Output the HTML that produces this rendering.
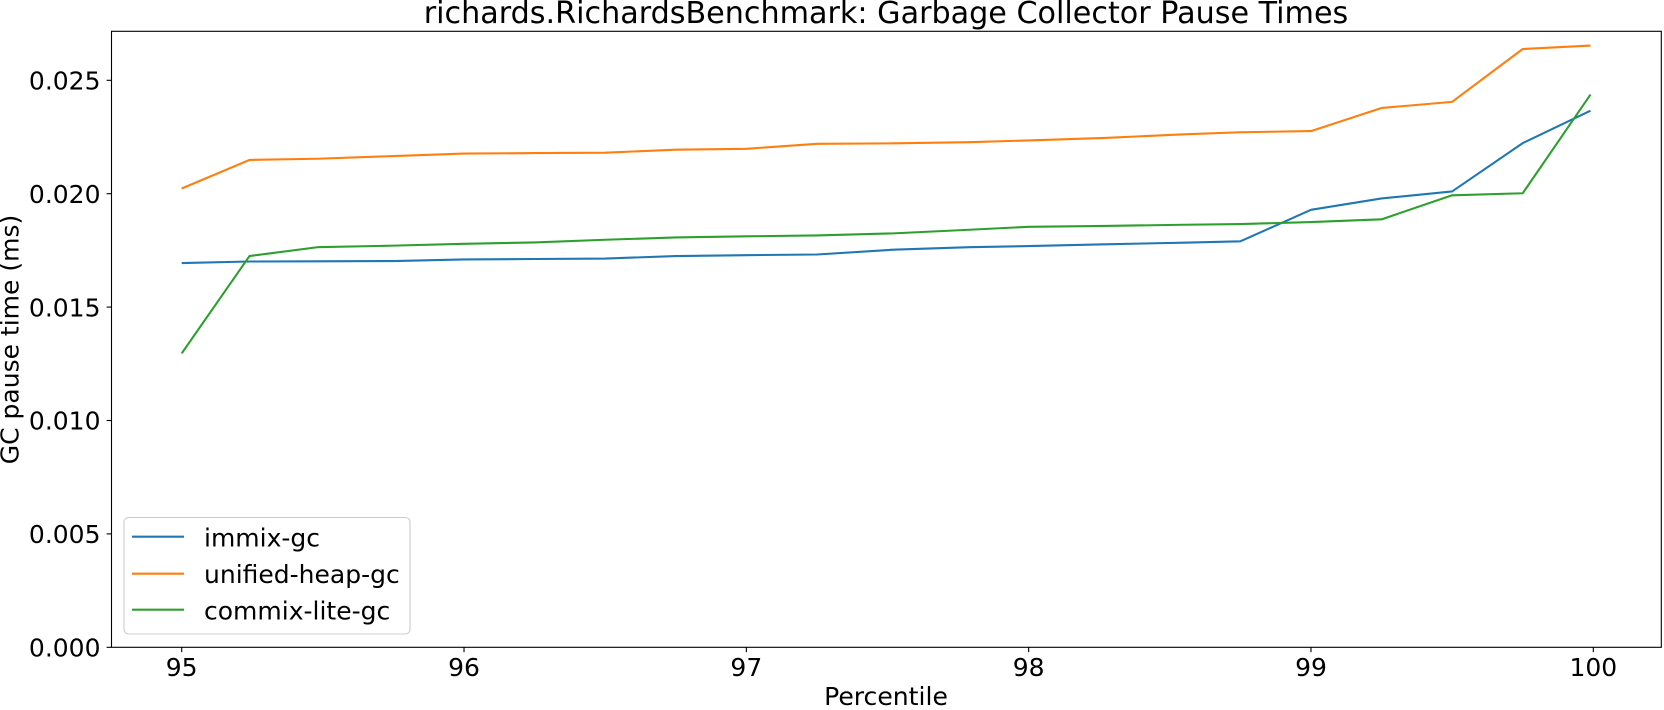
<!DOCTYPE html>
<html lang="en">
<head>
<meta charset="utf-8">
<title>richards.RichardsBenchmark: Garbage Collector Pause Times</title>
<style>
html,body{margin:0;padding:0;background:#fff;width:1664px;height:710px;overflow:hidden}
svg{display:block}
text{font-family:"DejaVu Sans",sans-serif;fill:#000}
</style>
</head>
<body>
<svg id="chart" xmlns="http://www.w3.org/2000/svg" width="1664" height="710" viewBox="0 0 1664 710">
  <rect x="0" y="0" width="1664" height="710" fill="#fff"/>
  <g id="series"></g>
  <g id="ticks"></g>
  <rect x="111.5" y="31.3" width="1549.8" height="616" fill="none" stroke="#000" stroke-width="1.1"/>
  <text x="886" y="23.2" font-size="30.2" text-anchor="middle">richards.RichardsBenchmark: Garbage Collector Pause Times</text>
  <text x="886" y="705" font-size="25.1" text-anchor="middle">Percentile</text>
  <text transform="translate(18.5,339.5) rotate(-90)" font-size="25" text-anchor="middle">GC pause time (ms)</text>
  <g>
    <rect x="124" y="517.5" width="286" height="116.5" rx="4.5" ry="4.5" fill="#fff" fill-opacity="0.8" stroke="#ccc" stroke-width="1.1"/>
    <g>
      <line x1="132" x2="184" y1="536.7" y2="536.7" stroke="#1f77b4" stroke-width="2.08"/>
      <text x="204" y="546.7" font-size="25">immix-gc</text>
    </g>
    <g>
      <line x1="132" x2="184" y1="573.7" y2="573.7" stroke="#ff7f0e" stroke-width="2.08"/>
      <text x="204" y="583" font-size="25">unified-heap-gc</text>
    </g>
    <g>
      <line x1="132" x2="184" y1="609.7" y2="609.7" stroke="#2ca02c" stroke-width="2.08"/>
      <text x="204" y="619.7" font-size="25">commix-lite-gc</text>
    </g>
  </g>
</svg>
<script>
var percentiles = [95, 95.24, 95.48, 95.75, 96, 96.25, 96.5, 96.75, 97, 97.25, 97.52, 97.79, 98, 98.27, 98.55, 98.75, 99, 99.25, 99.5, 99.75, 99.99];
var immixGc = [0.01694, 0.01701, 0.01702, 0.01703, 0.0171, 0.01712, 0.01714, 0.01725, 0.01729, 0.01732, 0.01753, 0.01764, 0.01769, 0.01777, 0.01784, 0.0179, 0.01929, 0.01979, 0.0201, 0.02223, 0.02366];
var unifiedHeapGc = [0.02023, 0.02149, 0.02154, 0.02166, 0.02177, 0.02179, 0.02181, 0.02194, 0.02198, 0.0222, 0.02222, 0.02227, 0.02235, 0.02246, 0.02262, 0.02271, 0.02276, 0.02378, 0.02405, 0.02638, 0.02653];
var commixLiteGc = [0.01296, 0.01725, 0.01764, 0.01771, 0.01779, 0.01785, 0.01797, 0.01807, 0.01812, 0.01816, 0.01825, 0.01841, 0.01854, 0.01858, 0.01863, 0.01866, 0.01875, 0.01887, 0.01993, 0.02002, 0.02437];
var xTickValues = [95, 96, 97, 98, 99, 100];
var yTickValues = [0, 0.005, 0.01, 0.015, 0.02, 0.025];

var NS = 'http://www.w3.org/2000/svg';
function xScale(v) { return 181.7 + (v - 95) * 282.32; }
function yScale(v) { return 647.3 - v * 22680; }

function drawSeries(values, color) {
  var pts = [];
  for (var i = 0; i < values.length; i++) {
    pts.push(xScale(percentiles[i]).toFixed(2) + ',' + yScale(values[i]).toFixed(2));
  }
  var line = document.createElementNS(NS, 'polyline');
  line.setAttribute('points', pts.join(' '));
  line.setAttribute('fill', 'none');
  line.setAttribute('stroke', color);
  line.setAttribute('stroke-width', '2.08');
  line.setAttribute('stroke-linejoin', 'round');
  return line;
}

var seriesGroup = document.getElementById('series');
var immixLine = drawSeries(immixGc, '#1f77b4');


seriesGroup.appendChild(immixLine);
var unifiedLine = drawSeries(unifiedHeapGc, '#ff7f0e');


seriesGroup.appendChild(unifiedLine);
var commixLine = drawSeries(commixLiteGc, '#2ca02c');


seriesGroup.appendChild(commixLine);

var tickGroup = document.getElementById('ticks');
xTickValues.forEach(function (v) {
  var x = xScale(v);
  var mark = document.createElementNS(NS, 'line');
  
  
  mark.setAttribute('x1', x);
  mark.setAttribute('x2', x);
  mark.setAttribute('y1', 647.3);
  mark.setAttribute('y2', 652.2);
  mark.setAttribute('stroke', '#000');
  mark.setAttribute('stroke-width', '1.1');
  tickGroup.appendChild(mark);
  var label = document.createElementNS(NS, 'text');
  
  
  label.setAttribute('x', x);
  label.setAttribute('y', 676);
  label.setAttribute('font-size', '25');
  label.setAttribute('text-anchor', 'middle');
  label.textContent = String(v);
  tickGroup.appendChild(label);
});
yTickValues.forEach(function (v) {
  var y = yScale(v);
  var mark = document.createElementNS(NS, 'line');
  
  
  mark.setAttribute('x1', 106.6);
  mark.setAttribute('x2', 111.5);
  mark.setAttribute('y1', y);
  mark.setAttribute('y2', y);
  mark.setAttribute('stroke', '#000');
  mark.setAttribute('stroke-width', '1.1');
  tickGroup.appendChild(mark);
  var label = document.createElementNS(NS, 'text');
  
  
  label.setAttribute('x', 100.5);
  label.setAttribute('y', y + 9.2);
  label.setAttribute('font-size', '25');
  label.setAttribute('text-anchor', 'end');
  label.textContent = v.toFixed(3);
  tickGroup.appendChild(label);
});
</script>
</body>
</html>
